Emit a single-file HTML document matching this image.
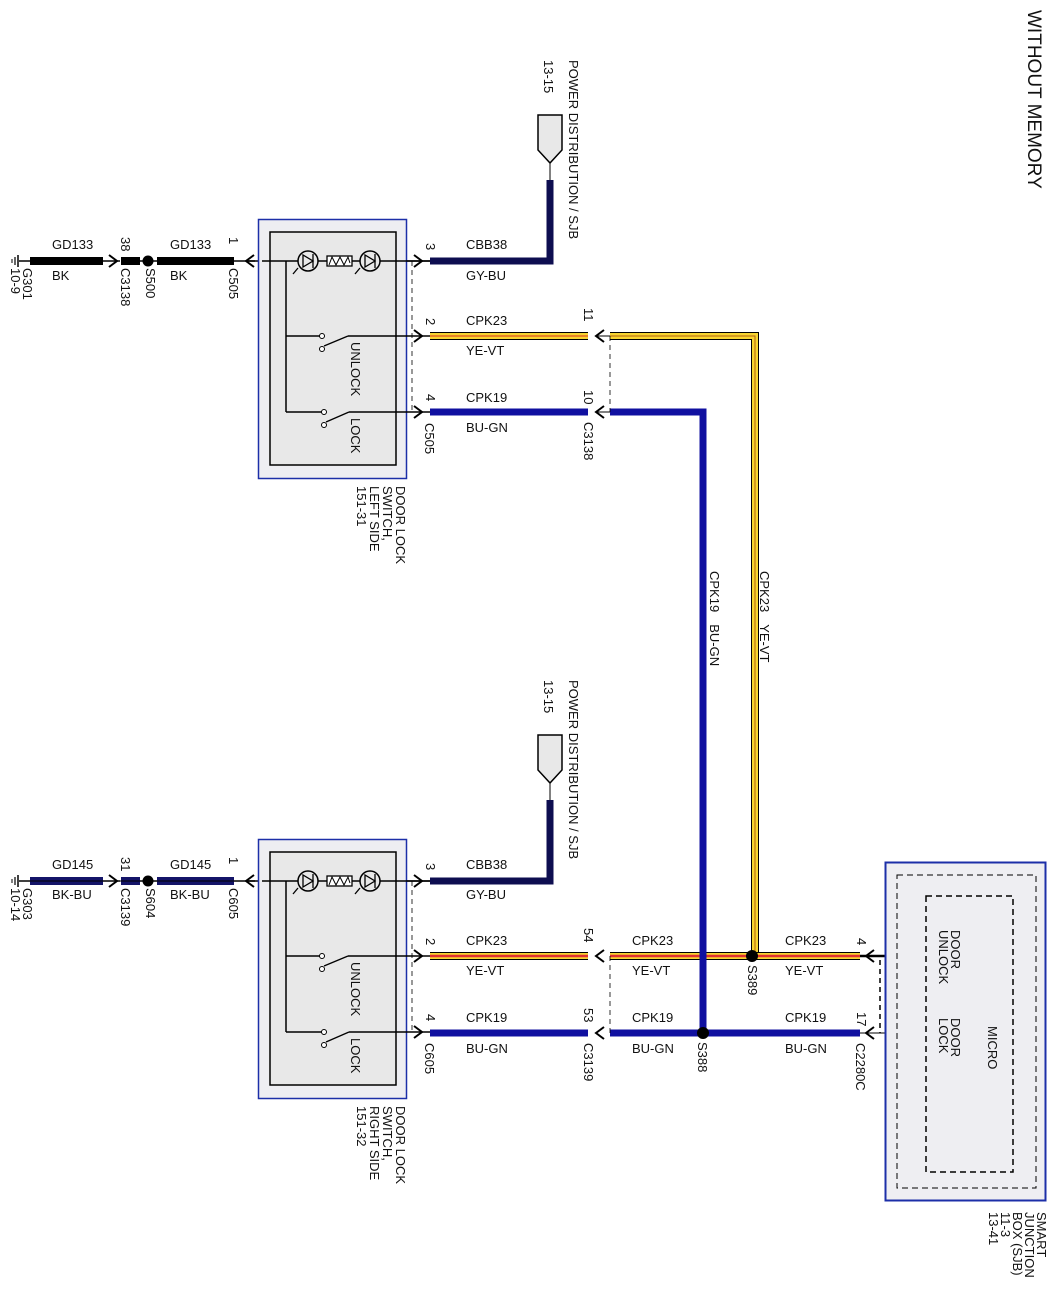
<!DOCTYPE html>
<html><head><meta charset="utf-8"><style>
html,body{margin:0;padding:0;background:#fff}
svg{display:block}
text{font-family:"Liberation Sans",Arial,sans-serif;font-size:13px;fill:#111}
</style></head><body>
<svg width="1058" height="1296" viewBox="0 0 1058 1296" xmlns="http://www.w3.org/2000/svg">
<defs>
<g id="sw">
 <line x1="19" y1="261" x2="30" y2="261" stroke="#000" stroke-width="1.5"/>
 <line x1="18" y1="255" x2="18" y2="267" stroke="#000" stroke-width="1.5"/>
 <line x1="15" y1="257" x2="15" y2="265" stroke="#000" stroke-width="1.2"/>
 <line x1="12" y1="259" x2="12" y2="263" stroke="#000" stroke-width="1"/>
 <line x1="30" y1="261" x2="120" y2="261" stroke="#000" stroke-width="1.5"/>
 <path d="M109,255 L117,261 L109,267" fill="none" stroke="#000" stroke-width="2"/>
 <line x1="140" y1="261" x2="255" y2="261" stroke="#000" stroke-width="1.5"/>
 <circle cx="148" cy="261" r="5.5" fill="#000"/>
 <path d="M254,255 L246,261 L254,267" fill="none" stroke="#000" stroke-width="2"/>
 <line x1="246" y1="261" x2="430" y2="261" stroke="#000" stroke-width="1.5"/>
 <rect x="258.5" y="219.5" width="148" height="259" fill="#eeeef2" stroke="#1c2fa8" stroke-width="1.5"/>
 <rect x="270" y="232" width="126" height="233" fill="#e8e8e8" stroke="#000" stroke-width="1.5"/>
 <line x1="262" y1="261" x2="430" y2="261" stroke="#000" stroke-width="1.5"/>
 <circle cx="308" cy="261" r="10" fill="#e8e8e8" stroke="#000" stroke-width="1.5"/>
 <path d="M303,255 L303,267 L313,261 Z M313,254 L313,268" fill="none" stroke="#000" stroke-width="1.3"/>
 <path d="M298,268 L293,274" stroke="#000" stroke-width="1.3"/>
 <rect x="327" y="256" width="25" height="10" fill="#fff" stroke="#000" stroke-width="1.3"/>
 <path d="M329,265 L332,257 L336,265 L340,257 L344,265 L348,257 L350,263" fill="none" stroke="#000" stroke-width="1"/>
 <circle cx="370" cy="261" r="10" fill="#e8e8e8" stroke="#000" stroke-width="1.5"/>
 <path d="M365,255 L365,267 L375,261 Z M375,254 L375,268" fill="none" stroke="#000" stroke-width="1.3"/>
 <path d="M360,268 L355,274" stroke="#000" stroke-width="1.3"/>
 <line x1="286" y1="261" x2="286" y2="412" stroke="#000" stroke-width="1.5"/>
 <line x1="286" y1="336" x2="321" y2="336" stroke="#000" stroke-width="1.5"/>
 <circle cx="322" cy="336" r="2.5" fill="#fff" stroke="#000"/>
 <circle cx="322" cy="349" r="2.5" fill="#fff" stroke="#000"/>
 <line x1="324" y1="346" x2="348" y2="336" stroke="#000" stroke-width="1.3"/>
 <line x1="348" y1="336" x2="430" y2="336" stroke="#000" stroke-width="1.5"/>
 <line x1="286" y1="412" x2="323" y2="412" stroke="#000" stroke-width="1.5"/>
 <circle cx="324" cy="412" r="2.5" fill="#fff" stroke="#000"/>
 <circle cx="324" cy="425" r="2.5" fill="#fff" stroke="#000"/>
 <line x1="326" y1="422" x2="349" y2="412" stroke="#000" stroke-width="1.3"/>
 <line x1="349" y1="412" x2="430" y2="412" stroke="#000" stroke-width="1.5"/>
 <line x1="412" y1="261" x2="412" y2="412" stroke="#000" stroke-width="0.8" stroke-dasharray="5,4"/>
 <path d="M414,255 L422,261 L414,267 M414,330 L422,336 L414,342 M414,406 L422,412 L414,418" fill="none" stroke="#000" stroke-width="2"/>
</g>
</defs>
<use href="#sw"/>
<use href="#sw" transform="translate(0,620)"/>

<rect x="30" y="257" width="73" height="8" fill="#000"/>
<rect x="121" y="257" width="19" height="8" fill="#000"/>
<rect x="157" y="257" width="77" height="8" fill="#000"/>
<rect x="30" y="877" width="73" height="8" fill="#141468"/>
<rect x="121" y="877" width="19" height="8" fill="#141468"/>
<rect x="157" y="877" width="77" height="8" fill="#141468"/>
<line x1="30" y1="881" x2="234" y2="881" stroke="#000" stroke-width="1"/>

<g id="pc">
<polygon points="538,115 562,115 562,150 550,163 538,150" fill="#e8e8e8" stroke="#000" stroke-width="1.5"/>
<line x1="550" y1="163" x2="550" y2="180" stroke="#000" stroke-width="1"/>
</g>
<use href="#pc" transform="translate(0,620)"/>
<path d="M430,261 H550 V180" fill="none" stroke="#0e0e50" stroke-width="7"/>
<path d="M430,881 H550 V800" fill="none" stroke="#0e0e50" stroke-width="7"/>

<g fill="none">
<path d="M430,336 H588" stroke="#000" stroke-width="8"/><path d="M430,336 H588" stroke="#f7d430" stroke-width="6"/><path d="M430,336 H588" stroke="#e05020" stroke-width="1.2"/>
<path d="M610,336 H755 V955" stroke="#000" stroke-width="8"/><path d="M610,336 H755 V955" stroke="#f7d430" stroke-width="6"/><path d="M610,336 H755 V955" stroke="#b06010" stroke-width="1"/>
<path d="M430,956 H588 M610,956 H860" stroke="#000" stroke-width="8"/><path d="M430,956 H588 M610,956 H860" stroke="#f7d430" stroke-width="6"/><path d="M430,956 H588 M610,956 H860" stroke="#e03030" stroke-width="2.5"/>
</g>
<g fill="none" stroke="#1010a0" stroke-width="7">
<path d="M430,412 H588"/><path d="M610,412 H703 V1033"/>
<path d="M430,1033 H588 M610,1033 H860"/>
</g>
<line x1="860" y1="1033" x2="920" y2="1033" stroke="#000" stroke-width="1"/>
<line x1="860" y1="956" x2="920" y2="956" stroke="#000" stroke-width="2.5"/>
<circle cx="752" cy="956" r="6" fill="#000"/>
<circle cx="703" cy="1033" r="6" fill="#000"/>

<path d="M604,330 L596,336 L604,342 M604,406 L596,412 L604,418 M604,950 L596,956 L604,962 M604,1027 L596,1033 L604,1039 M874,950 L866,956 L874,962 M874,1027 L866,1033 L874,1039" fill="none" stroke="#000" stroke-width="2"/>
<line x1="596" y1="336" x2="610" y2="336" stroke="#000"/>
<line x1="596" y1="412" x2="610" y2="412" stroke="#000"/>
<line x1="610" y1="336" x2="610" y2="412" stroke="#000" stroke-width="0.8" stroke-dasharray="5,4"/>
<line x1="610" y1="956" x2="610" y2="1033" stroke="#000" stroke-width="0.8" stroke-dasharray="5,4"/>
<line x1="880" y1="960" x2="880" y2="1033" stroke="#000" stroke-width="1.5" stroke-dasharray="5,4"/>

<rect x="885.5" y="862.5" width="160" height="338" fill="#eeeef2" stroke="#1c2fa8" stroke-width="2"/>
<rect x="897" y="875" width="139" height="313" fill="none" stroke="#000" stroke-width="1" stroke-dasharray="6,4"/>
<rect x="926" y="896" width="87" height="276" fill="none" stroke="#000" stroke-width="1.5" stroke-dasharray="6,4"/>

<text x="52" y="249">GD133</text><text x="52" y="280">BK</text>
<text x="170" y="249">GD133</text><text x="170" y="280">BK</text>
<text x="466" y="249">CBB38</text><text x="466" y="280">GY-BU</text>
<text x="466" y="325">CPK23</text><text x="466" y="355">YE-VT</text>
<text x="466" y="402">CPK19</text><text x="466" y="432">BU-GN</text>
<text x="52" y="869">GD145</text><text x="52" y="899">BK-BU</text>
<text x="170" y="869">GD145</text><text x="170" y="899">BK-BU</text>
<text x="466" y="869">CBB38</text><text x="466" y="899">GY-BU</text>
<text x="466" y="945">CPK23</text><text x="466" y="975">YE-VT</text>
<text x="466" y="1022">CPK19</text><text x="466" y="1053">BU-GN</text>
<text x="632" y="945">CPK23</text><text x="632" y="975">YE-VT</text>
<text x="632" y="1022">CPK19</text><text x="632" y="1053">BU-GN</text>
<text x="785" y="945">CPK23</text><text x="785" y="975">YE-VT</text>
<text x="785" y="1022">CPK19</text><text x="785" y="1053">BU-GN</text>

<g>
<text transform="translate(1028,10) rotate(90)" style="font-size:19px">WITHOUT MEMORY</text>
<text transform="translate(23,268) rotate(90)">G301<tspan x="0" dy="12">10-9</tspan></text>
<text transform="translate(23,888) rotate(90)">G303<tspan x="0" dy="12">10-14</tspan></text>
<text transform="translate(121,237) rotate(90)">38</text>
<text transform="translate(121,268) rotate(90)">C3138</text>
<text transform="translate(146,268) rotate(90)">S500</text>
<text transform="translate(229,237) rotate(90)">1</text>
<text transform="translate(229,268) rotate(90)">C505</text>
<text transform="translate(121,857) rotate(90)">31</text>
<text transform="translate(121,888) rotate(90)">C3139</text>
<text transform="translate(146,888) rotate(90)">S604</text>
<text transform="translate(229,857) rotate(90)">1</text>
<text transform="translate(229,888) rotate(90)">C605</text>
<text transform="translate(351,342) rotate(90)">UNLOCK</text>
<text transform="translate(351,418) rotate(90)">LOCK</text>
<text transform="translate(351,962) rotate(90)">UNLOCK</text>
<text transform="translate(351,1038) rotate(90)">LOCK</text>
<text transform="translate(426,243) rotate(90)">3</text>
<text transform="translate(426,318) rotate(90)">2</text>
<text transform="translate(426,394) rotate(90)">4</text>
<text transform="translate(425,423) rotate(90)">C505</text>
<text transform="translate(426,863) rotate(90)">3</text>
<text transform="translate(426,938) rotate(90)">2</text>
<text transform="translate(426,1014) rotate(90)">4</text>
<text transform="translate(425,1043) rotate(90)">C605</text>
<text transform="translate(396,486) rotate(90)">DOOR LOCK<tspan x="0" dy="13">SWITCH,</tspan><tspan x="0" dy="13">LEFT SIDE</tspan><tspan x="0" dy="13">151-31</tspan></text>
<text transform="translate(396,1106) rotate(90)">DOOR LOCK<tspan x="0" dy="13">SWITCH,</tspan><tspan x="0" dy="13">RIGHT SIDE</tspan><tspan x="0" dy="13">151-32</tspan></text>
<text transform="translate(569,60) rotate(90)">POWER DISTRIBUTION / SJB</text>
<text transform="translate(544,60) rotate(90)">13-15</text>
<text transform="translate(569,680) rotate(90)">POWER DISTRIBUTION / SJB</text>
<text transform="translate(544,680) rotate(90)">13-15</text>
<text transform="translate(584,308) rotate(90)">11</text>
<text transform="translate(584,390) rotate(90)">10</text>
<text transform="translate(584,422) rotate(90)">C3138</text>
<text transform="translate(584,928) rotate(90)">54</text>
<text transform="translate(584,1008) rotate(90)">53</text>
<text transform="translate(584,1043) rotate(90)">C3139</text>
<text transform="translate(710,571) rotate(90)">CPK19<tspan dx="12">BU-GN</tspan></text>
<text transform="translate(760,571) rotate(90)">CPK23<tspan dx="12">YE-VT</tspan></text>
<text transform="translate(748,965) rotate(90)">S389</text>
<text transform="translate(698,1042) rotate(90)">S388</text>
<text transform="translate(857,938) rotate(90)">4</text>
<text transform="translate(857,1012) rotate(90)">17</text>
<text transform="translate(856,1043) rotate(90)">C2280C</text>
<text transform="translate(951,930) rotate(90)">DOOR<tspan x="0" dy="12">UNLOCK</tspan></text>
<text transform="translate(951,1018) rotate(90)">DOOR<tspan x="0" dy="12">LOCK</tspan></text>
<text transform="translate(988,1026) rotate(90)">MICRO</text>
<text transform="translate(1037,1212) rotate(90)">SMART<tspan x="0" dy="12">JUNCTION</tspan><tspan x="0" dy="12">BOX (SJB)</tspan><tspan x="0" dy="12">11-3</tspan><tspan x="0" dy="12">13-41</tspan></text>
</g>
</svg>
</body></html>
